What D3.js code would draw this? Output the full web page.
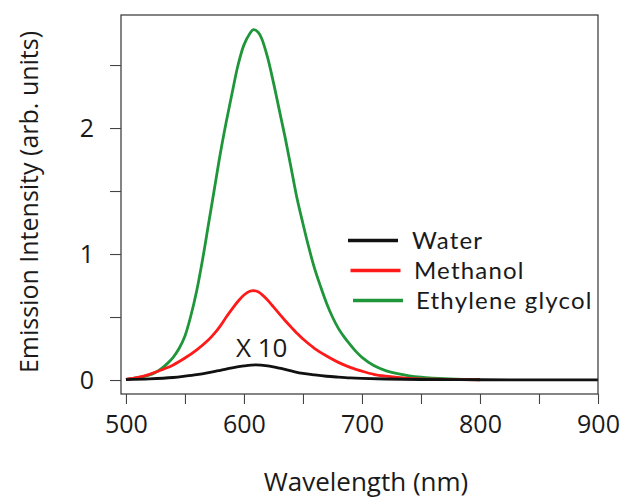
<!DOCTYPE html>
<html>
<head>
<meta charset="utf-8">
<script src="https://cdn.jsdelivr.net/npm/d3@7"></script>
<style>
  body { margin: 0; background: #fff; }
  text { font-family: "Open Sans", "Noto Sans", sans-serif; fill: #1a1a1a; }
</style>
</head>
<body>
<svg width="629" height="500"></svg>
<script>
// wavelength (nm) / intensity
var greenWl  = [500,510,520,525,530,535,540,545,550,555,560,565,570,575,580,585,590,595,600,605,608,612,615,620,625,630,635,640,645,650,655,660,665,670,675,680,685,690,695,700,710,720,730,740,750,760,770,780,790,800];
var greenVal = [0.005,0.018,0.04,0.06,0.09,0.13,0.18,0.25,0.35,0.51,0.71,0.96,1.24,1.52,1.80,2.05,2.28,2.50,2.66,2.75,2.78,2.76,2.71,2.56,2.36,2.14,1.92,1.68,1.44,1.24,1.05,0.88,0.74,0.61,0.50,0.41,0.34,0.28,0.225,0.18,0.115,0.075,0.05,0.033,0.022,0.015,0.01,0.007,0.005,0.004];

var redWl  = [500,510,520,530,540,550,560,570,575,580,585,590,595,600,605,608,612,615,620,625,630,635,640,645,650,660,670,680,690,700,710,720,730,740,760,780,800];
var redVal = [0.005,0.02,0.045,0.08,0.12,0.175,0.24,0.32,0.37,0.43,0.50,0.565,0.625,0.675,0.705,0.71,0.70,0.68,0.635,0.58,0.525,0.47,0.42,0.37,0.325,0.25,0.19,0.14,0.10,0.07,0.045,0.03,0.02,0.013,0.006,0.003,0.002];

var waterWl  = [500,520,540,550,560,570,580,590,600,610,620,630,640,650,660,670,680,690,700,720,750,800,850,900];
var waterVal = [0.003,0.009,0.02,0.03,0.042,0.058,0.077,0.097,0.112,0.12,0.112,0.094,0.072,0.052,0.04,0.03,0.023,0.017,0.013,0.008,0.004,0.002,0.001,0.001];

var seriesNames  = ["Water", "Methanol", "Ethylene glycol"];
var seriesColors = ["#111111", "#ff1a1a", "#1f963a"];

var xTicks = [500,550,600,650,700,750,800,850,900];
var yTicks = [0,0.5,1,1.5,2,2.5];

var svg = d3.select("svg");
var x = d3.scaleLinear().domain([495.8, 900]).range([121, 598]);
var y = d3.scaleLinear().domain([-0.111, 2.897]).range([394, 15]);

function pairs(wl, v) { return wl.map(function(w, i) { return {w: w, v: v[i]}; }); }
var series = [pairs(waterWl, waterVal), pairs(redWl, redVal), pairs(greenWl, greenVal)];

var line = d3.line()
    .x(function(d) { return x(d.w); })
    .y(function(d) { return y(d.v); })
    .curve(d3.curveCatmullRom.alpha(0.5));

// green first, then red, water last so it sits on the baseline
[2, 1, 0].forEach(function(i) {
  svg.append("path")
      .attr("d", line(series[i]))
      .attr("fill", "none")
      .attr("stroke", seriesColors[i])
      .attr("stroke-width", 2.8);
});

// frame
svg.append("rect")
    .attr("x", 121).attr("y", 15)
    .attr("width", 477).attr("height", 379)
    .attr("fill", "none")
    .attr("stroke", "#333")
    .attr("stroke-width", 1.2);

var xAxis = svg.append("g")
    .attr("transform", "translate(0,394)")
    .call(d3.axisBottom(x).tickValues(xTicks).tickSize(10).tickPadding(11)
      .tickFormat(function(d) { return d % 100 == 0 ? d : ""; }));
var yAxis = svg.append("g")
    .attr("transform", "translate(121,0)")
    .call(d3.axisLeft(y).tickValues(yTicks).tickSize(11).tickPadding(16)
      .tickFormat(function(d) { return d % 1 == 0 ? d : ""; }));

[xAxis, yAxis].forEach(function(a) {
  a.select(".domain").remove();
  a.selectAll(".tick line").attr("stroke", "#444").attr("stroke-width", 1.1);
  a.selectAll(".tick text")
      .style("font-family", "'Open Sans', sans-serif")
      .style("font-size", "25px")
      .attr("fill", "#1a1a1a");
});

svg.append("text")
    .attr("x", 366).attr("y", 491)
    .attr("text-anchor", "middle")
    .style("font-size", "26px")
    .text("Wavelength (nm)");

svg.append("text")
    .attr("transform", "translate(38,202) rotate(-90)")
    .attr("text-anchor", "middle")
    .style("font-size", "25px")
    .text("Emission Intensity (arb. units)");

// "X 10" marker over the water curve
svg.append("text")
    .attr("x", x(615)).attr("y", y(0.18))
    .attr("text-anchor", "middle")
    .style("font-size", "26px")
    .text("X 10");

// legend
var legendY = [240.5, 270.5, 300.5];
var legend = svg.append("g");
seriesNames.forEach(function(name, i) {
  legend.append("line")
      .attr("x1", 348 + i * 2.5).attr("x2", 398 + i * 2.5)
      .attr("y1", legendY[i]).attr("y2", legendY[i])
      .attr("stroke", seriesColors[i])
      .attr("stroke-width", 3.6);
  legend.append("text")
      .attr("x", 412 + i * 2).attr("y", legendY[i] + 8)
      .style("font-family", "Lato, 'Open Sans', sans-serif")
      .style("font-size", "24px")
      .style("letter-spacing", "1.2px")
      .text(name);
});
</script>
</body>
</html>
